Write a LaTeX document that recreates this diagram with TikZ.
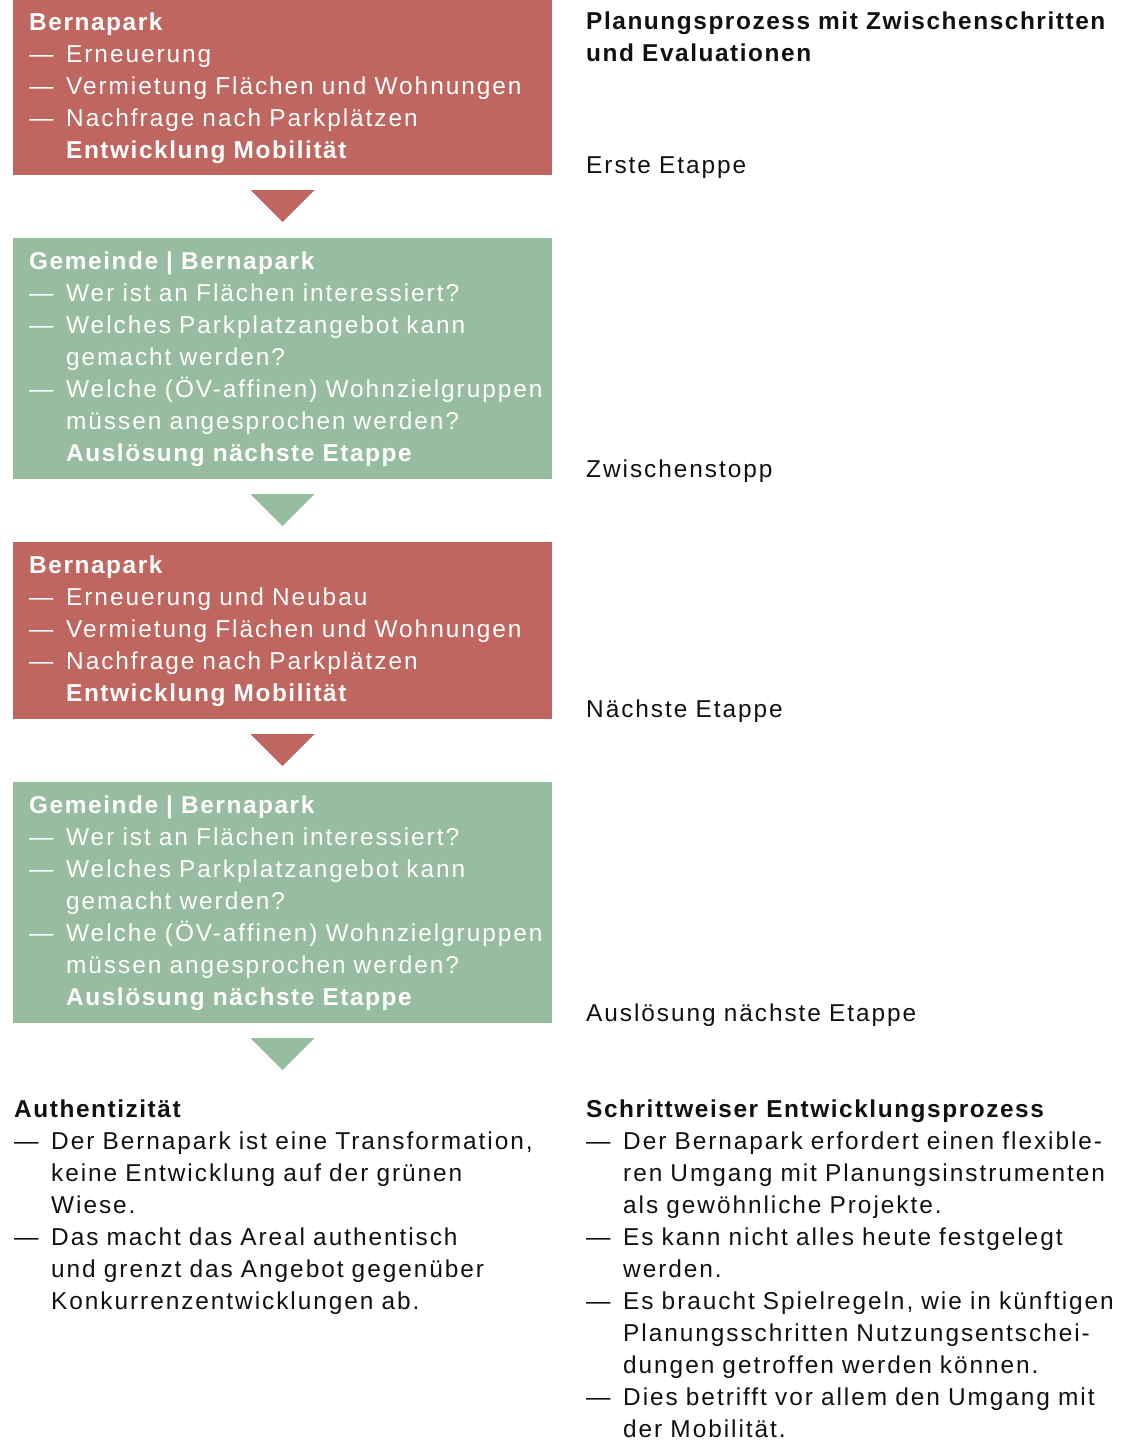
\documentclass[tikz,border=0pt]{standalone}
\usepackage{fontspec}
\setmainfont{Liberation Sans}[LetterSpace=8.0, BoldFeatures={LetterSpace=6.4}]
\usetikzlibrary{calc}
\definecolor{boxred}{HTML}{BE665F}
\definecolor{boxgreen}{HTML}{97BC9F}
\definecolor{inktext}{HTML}{111111}
\newcommand{\dl}[1]{\makebox[37pt][l]{—}#1}
\newcommand{\il}[1]{\hspace*{37pt}#1}
\begin{document}
\begin{tikzpicture}[x=1pt,y=-1pt,
  box/.style={anchor=north west, inner sep=0pt, outer sep=0pt, minimum width=539pt, draw=none},
  redbox/.style={box, fill=boxred},
  greenbox/.style={box, fill=boxgreen},
  txt/.style={anchor=base west, inner sep=0pt, text width=545pt, align=left, text=inktext,
    font=\fontsize{24.4}{32}\selectfont},
  wtxt/.style={txt, text=white}]
\useasboundingbox (0,0) rectangle (1139,1440);

% boxes
\node[redbox, minimum height=175pt] (r1) at (13,0) {};
\node[greenbox, minimum height=241pt] (g1) at (13,238) {};
\node[redbox, minimum height=177pt] (r2) at (13,542) {};
\node[greenbox, minimum height=241pt] (g2) at (13,782) {};

% arrow triangles
\fill[boxred] ($(r1.south)+(-32,15)$) -- ($(r1.south)+(32,15)$) -- ($(r1.south)+(0,47)$) -- cycle;
\fill[boxgreen] ($(g1.south)+(-32,15)$) -- ($(g1.south)+(32,15)$) -- ($(g1.south)+(0,47)$) -- cycle;
\fill[boxred] ($(r2.south)+(-32,15)$) -- ($(r2.south)+(32,15)$) -- ($(r2.south)+(0,47)$) -- cycle;
\fill[boxgreen] ($(g2.south)+(-32,15)$) -- ($(g2.south)+(32,15)$) -- ($(g2.south)+(0,47)$) -- cycle;

% box texts
\node[wtxt] (t1) at (29,30.5) {\textbf{Bernapark}\\
\dl{Erneuerung}\\
\dl{Vermietung Flächen und Wohnungen}\\
\dl{Nachfrage nach Parkplätzen}\\
\il{\textbf{Entwicklung Mobilität}}};

\node[wtxt] (t2) at (29,269.5) {\textbf{Gemeinde | Bernapark}\\
\dl{Wer ist an Flächen interessiert?}\\
\dl{Welches Parkplatzangebot kann}\\
\il{gemacht werden?}\\
\dl{Welche (ÖV-affinen) Wohnzielgruppen}\\
\il{müssen angesprochen werden?}\\
\il{\textbf{Auslösung nächste Etappe}}};

\node[wtxt] (t3) at (29,573.5) {\textbf{Bernapark}\\
\dl{Erneuerung und Neubau}\\
\dl{Vermietung Flächen und Wohnungen}\\
\dl{Nachfrage nach Parkplätzen}\\
\il{\textbf{Entwicklung Mobilität}}};

\node[wtxt] (t4) at (29,813.5) {\textbf{Gemeinde | Bernapark}\\
\dl{Wer ist an Flächen interessiert?}\\
\dl{Welches Parkplatzangebot kann}\\
\il{gemacht werden?}\\
\dl{Welche (ÖV-affinen) Wohnzielgruppen}\\
\il{müssen angesprochen werden?}\\
\il{\textbf{Auslösung nächste Etappe}}};

% right column
\node[txt] (head) at (586,29.5) {\textbf{Planungsprozess mit Zwischenschritten}\\
\textbf{und Evaluationen}};
\node[txt] (l1) at (586,173.5) {Erste Etappe};
\node[txt] (l2) at (586,477.5) {Zwischenstopp};
\node[txt] (l3) at (586,717.5) {Nächste Etappe};
\node[txt] (l4) at (586,1021.5) {Auslösung nächste Etappe};

% bottom texts
\node[txt] (auth) at (14,1117) {\textbf{Authentizität}\\
\dl{Der Bernapark ist eine Transformation,}\\
\il{keine Entwicklung auf der grünen}\\
\il{Wiese.}\\
\dl{Das macht das Areal authentisch}\\
\il{und grenzt das Angebot gegenüber}\\
\il{Konkurrenzentwicklungen ab.}};

\node[txt] (schritt) at (586,1117) {\textbf{Schrittweiser Entwicklungsprozess}\\
\dl{Der Bernapark erfordert einen flexible-}\\
\il{ren Umgang mit Planungsinstrumenten}\\
\il{als gewöhnliche Projekte.}\\
\dl{Es kann nicht alles heute festgelegt}\\
\il{werden.}\\
\dl{Es braucht Spielregeln, wie in künftigen}\\
\il{Planungsschritten Nutzungsentschei-}\\
\il{dungen getroffen werden können.}\\
\dl{Dies betrifft vor allem den Umgang mit}\\
\il{der Mobilität.}};
\end{tikzpicture}
\end{document}
